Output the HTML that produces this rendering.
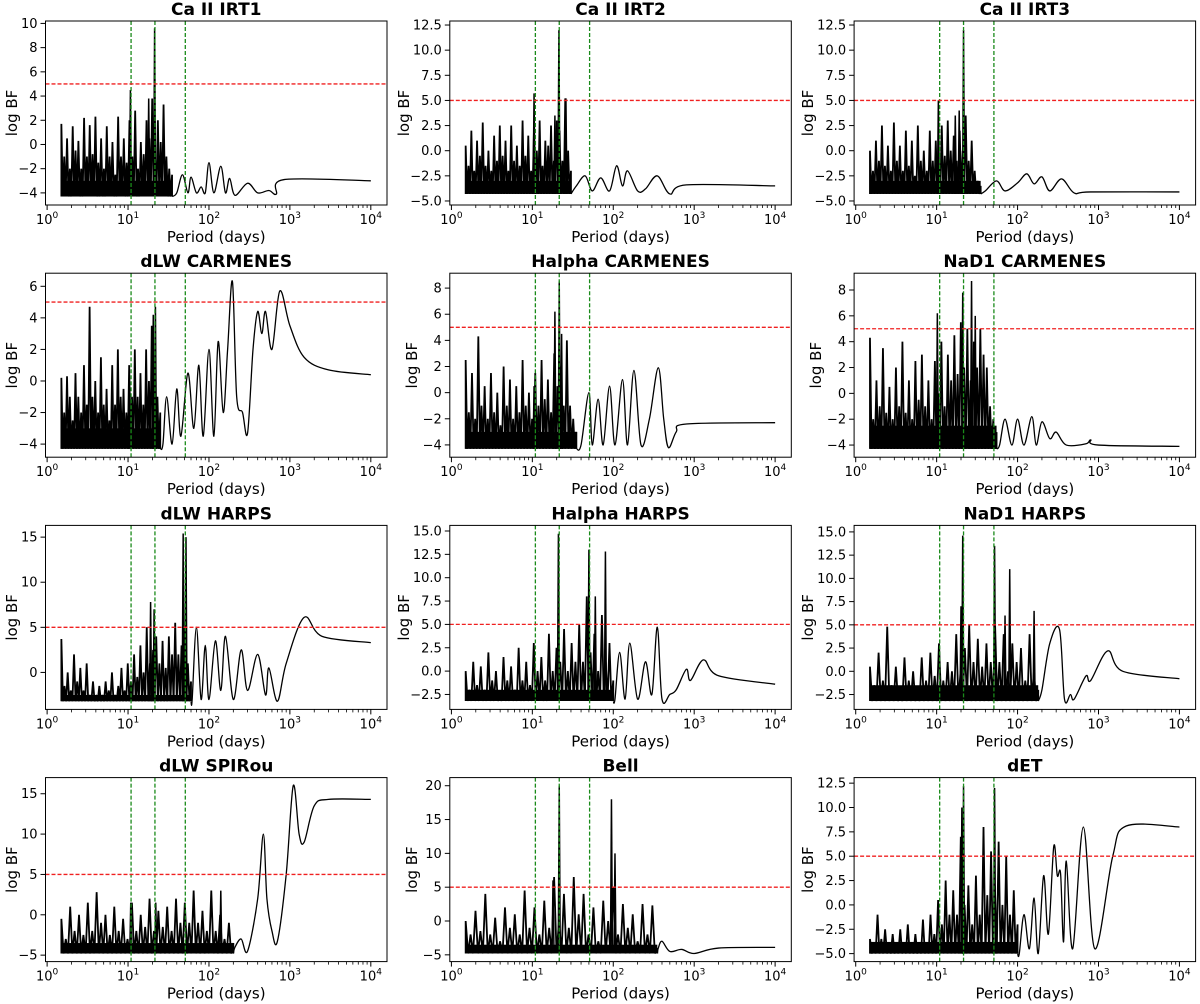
<!DOCTYPE html>
<html><head><meta charset="utf-8"><style>
html,body{margin:0;padding:0;background:#fff;}
svg{display:block;font-family:"DejaVu Sans","Liberation Sans",sans-serif;}
</style></head><body>
<svg id="fig" width="1200" height="1004" viewBox="0 0 1200 1004" xmlns="http://www.w3.org/2000/svg"></svg>
<script>
const titles=["Ca II IRT1","Ca II IRT2","Ca II IRT3","dLW CARMENES","Halpha CARMENES","NaD1 CARMENES","dLW HARPS","Halpha HARPS","NaD1 HARPS","dLW SPIRou","Bell","dET"];
const yLimits=[[-5,10.2],[-5.4,12.9],[-5.4,12.9],[-4.83,6.83],[-4.94,9.14],[-4.94,9.3],[-4.1,16.3],[-4.1,15.6],[-4.1,15.7],[-5.8,17],[-6,21.2],[-5.82,13.07]];
const yTicks=[[-4,-2,0,2,4,6,8,10],[-5,-2.5,0,2.5,5,7.5,10,12.5],[-5,-2.5,0,2.5,5,7.5,10,12.5],[-4,-2,0,2,4,6],[-4,-2,0,2,4,6,8],[-4,-2,0,2,4,6,8],[0,5,10,15],[-2.5,0,2.5,5,7.5,10,12.5,15],[-2.5,0,2.5,5,7.5,10,12.5,15],[-5,0,5,10,15],[-5,0,5,10,15,20],[-5,-2.5,0,2.5,5,7.5,10,12.5]];
const yDecimals=[0,1,1,0,0,0,0,1,1,0,0,1];
const floors=[-4.3,-4.3,-4.3,-4.3,-4.3,-4.3,-3.2,-3.2,-3.2,-4.8,-4.8,-5];
const noiseBand=[-3,-3,-3,-3,-3,-2.5,-2.5,-2,-1.5,-3.5,-3.5,-3.8];
const noiseRange=[[1.5,35],[1.5,30],[1.5,35],[1.5,25],[1.5,35],[1.5,55],[1.5,60],[1.5,100],[1.5,180],[1.5,200],[1.5,350],[1.5,100]];
const noisePeaks=[
[1.7,-1,0.5,-2,1.5,-0.5,0.3,-2,2.2,-1,1.6,-0.8,2.3,-1.5,0.5,-2,1.5,-1,0.2,-2.5,2.3,-1,0.5,-1.5,2,-1,2.8,-2,0.2,-0.8,2,0.5,3.8,-1,2,0.2,3.3,-1,-2,-2.5],
[0.5,-1.5,2,-2,1,-0.5,2.8,-1.5,0,-2,1.5,-1,2.5,-0.5,1,-2,2.5,-1,0.5,-1.5,3,-0.5,1.5,-2,2,0,3,-1.5,1,0.5,2.5,-1,3,2,-1,5.2,0,-2],
[0,-2,1,-1,2.5,-1.5,0.5,-2,2.8,-1,0.5,-2,2,-1.5,1,-2.5,2.5,-1,0,-2,2,-1,1,-1.5,2.5,-0.5,3,0,1.5,-1,2,0,3.5,-1,1,-2,-3,-3.5],
[0.2,-2,0.3,-1,-2.5,0.5,-1,-2,1,-1.5,4.7,-1,0,-2,1.5,-1.5,-0.5,-2.5,1,-1.5,2,-1,-0.5,-2,1,-1,2,-1,0.5,-1.5,2,0,3.5,1,-1,-2],
[2.5,-1.5,1.5,-2,4.3,-1,0.5,-2,1.5,-1.5,0,-2.5,2,-1,1,-2,0.5,-1.5,2.5,-1,0,-2,1.5,-1,2.5,-0.5,1,-1.5,3,0.5,2,-1,4,-1,-2,-3],
[4.3,-2,1,-1,3.5,-1.5,0.5,-2,2,-1,4,-1.5,1,-2,2.5,-0.5,3,-1,1,-2,2.5,0,4,-1,3,1,4.5,1.5,5.5,2,5,1,4,2,5,3,2,-1,-2,-3],
[3.7,-1.5,0,-2,2,-1,0.5,-2,1,-2.5,-1,-2.7,-1.5,-2.5,-1,-2,0,-2.5,-1.5,0.5,-2,1,-1,2,-0.5,3,0,5,1,2.5,4,1,3.5,0.5,4,2,5.5,2,3,5,1,-1],
[0,-2,1,-1.5,0.5,-2,2,-1,0,-2.5,1.5,-1,0.5,-2,2.5,-1,1,-1.5,3,0,1.5,-1,4,0,2.5,1,4.5,0,3,1,5,1,8,2,4,0,6,1,3,-1],
[0.5,-1.5,2,-1,4.8,-1.5,0.5,-2,1.5,-1,0,-2,1.5,-1,2,-0.5,3,-1,1,0,4,0,2.5,5,1,3.5,0.5,3,1,5,1,4,0,3,1,2.5,-1,4,0,-2],
[-0.5,-3,1,-2,0,-2.5,1.5,-2,2.8,-1,0,-2.5,1,-2,-0.5,-3,1.5,-2,0,-1.5,2,-2,0.5,-1.5,1,-2,2,-1,1.5,-1,3,-1,0.5,-2,3,-2,0,-3,-1,-3.5],
[0,-2,1.5,-1.5,4,-2,0.5,-3,2,-1,1,-2,4.5,-1,2,-2,3,-1,6.5,0,4,-1,6.5,1,4,-2,2,-3,3,0,5,-2,2.5,-1,1,-3,2.5,-2,2.3,-4],
[-3.5,-4,-1,-3.5,-2.5,-4,-3,-4,-2.5,-4,-2,-4,-3,-4,-1.5,-4,-1,-3,0.5,-2,2.5,-1,1.5,-1,7,0,2,-2,3,-1,8,1,5.5,2,6.5,0,5,-1,1.5,-2]];
const spikes=[
[[10.7,4.5],[21.3,9.6],[18,3.8]],
[[10.5,5.7],[21.3,12],[19,3.5],[26,5.2]],
[[10.5,5],[21.5,12],[19,4],[17,3.5]],
[[10.5,-0.5],[21.8,4.7],[20.5,4.2]],
[[19,6.2],[21.5,8.5],[10.5,0.5],[23,4.5]],
[[10.2,6.2],[21,7.8],[27,8.7],[30,6]],
[[19,7.8],[21,7],[48,15.4],[52,15]],
[[21,14.7],[50,13],[80,12.8],[60,8]],
[[21,14.6],[52,13.5],[80,11],[160,6.5],[20,7],[70,6]],
[[10.8,1.5],[22,1.5],[140,3]],
[[21.5,20],[95,18],[18,6],[105,10]],
[[21.5,12.2],[52,12],[20.5,10]]];
const tails=[
[[40,-4],[47,-2.5],[55,-4],[60,-2.7],[70,-4],[80,-3.5],[90,-4],[100,-1.5],[115,-4],[140,-1.8],[160,-4],[180,-2.8],[210,-4.2],[300,-3.2],[400,-4],[550,-3.8],[680,-4.1],[850,-2.9],[10000,-3]],
[[35,-3.5],[45,-2.5],[55,-4],[70,-2.7],[90,-4],[110,-1.5],[130,-3.5],[150,-2],[200,-4],[250,-3.8],[350,-2.5],[500,-4.3],[800,-3.4],[10000,-3.5]],
[[40,-4],[55,-3],[70,-4],[100,-3.2],[130,-2.3],[160,-3.3],[200,-2.6],[250,-4],[350,-2.8],[500,-4.2],[800,-4.1],[10000,-4.1]],
[[27,-4],[30,-1],[35,-4],[40,-0.5],[45,-3.5],[55,0.5],[65,-3],[75,1],[85,-3.5],[100,2],[115,-3.5],[130,2.5],[150,-2],[170,2],[195,6.3],[220,-1],[260,-2],[300,-3.3],[350,2],[400,4.4],[450,3],[500,4.4],[600,2],[750,5.7],[1000,3.5],[1500,1.5],[3000,0.7],[10000,0.4]],
[[40,-4],[50,0],[55,-4],[65,-0.5],[75,-4],[90,0.5],[105,-4],[130,1],[150,-4],[180,1.7],[220,-4],[280,-2],[360,1.9],[420,-2],[480,-4.2],[600,-3],[800,-2.4],[10000,-2.3]],
[[60,-4],[70,-2],[85,-4],[100,-2],[120,-4],[150,-1.8],[170,-4],[200,-2.2],[250,-3.5],[300,-3],[400,-4],[700,-3.9],[800,-3.6],[1000,-4],[10000,-4.1]],
[[62,-3],[70,5],[80,-3],[90,3],[100,-3],[120,3.5],[140,-2],[160,4],[200,-3],[250,2.5],[300,-2],[400,2],[500,-2.5],[550,0.5],[700,-3.2],[900,1],[1500,6.1],[2500,4],[10000,3.3]],
[[105,-3],[120,2],[140,-3],[160,3],[200,-3],[250,1],[300,-2.5],[350,4.7],[400,-3],[500,-2.5],[600,-2],[800,0.2],[900,-1],[1300,1.2],[2000,-0.5],[10000,-1.4]],
[[200,-2],[250,3],[330,4.5],[380,-3],[450,-2.5],[500,-3],[700,-0.5],[800,-1],[1300,2.2],[2000,0],[10000,-0.8]],
[[210,-4],[250,-3],[300,-4.5],[400,2],[470,10],[520,2],[600,-2],[700,-3.3],[900,5],[1100,16],[1300,10],[1500,9],[2000,13.5],[3000,14.3],[10000,14.3]],
[[360,-4],[400,-3],[500,-4.5],[700,-4.2],[1000,-4.8],[2000,-4],[10000,-3.9]],
[[105,-5],[120,-1],[140,-4.5],[160,0.7],[180,-5],[210,3],[240,-3],[280,6],[310,3],[340,3.2],[370,-3.8],[400,4.5],[480,-4.5],[650,8],[900,-4.5],[1500,5],[2200,8.1],[10000,8]]];
const greenLines=[10.9,21.5,51];
const threshold=5;
const xDecades=[0,1,2,3,4];

const NS="http://www.w3.org/2000/svg";
const svg=document.getElementById('fig');
function mk(tag,attrs,parent){const e=document.createElementNS(NS,tag);for(const k in attrs)e.setAttribute(k,attrs[k]);(parent||svg).appendChild(e);return e;}
const AX_L=45.5, COL_W=404.3, AX_T=21, ROW_H=252.2, AW=341.5, AH=184;
const XMIN=-0.02, XMAX=4.2;
function fmt(v,d){let s=v.toFixed(d);return v<0?"\u2212"+s.slice(1):s;}
function smooth(pts){let d="M"+pts[0][0]+","+pts[0][1];for(let i=0;i<pts.length-1;i++){const p0=pts[Math.max(i-1,0)],p1=pts[i],p2=pts[i+1],p3=pts[Math.min(i+2,pts.length-1)];const c1x=p1[0]+(p2[0]-p0[0])/6,c1y=p1[1]+(p2[1]-p0[1])/6,c2x=p2[0]-(p3[0]-p1[0])/6,c2y=p2[1]-(p3[1]-p1[1])/6;d+=" C"+c1x.toFixed(2)+","+c1y.toFixed(2)+" "+c2x.toFixed(2)+","+c2y.toFixed(2)+" "+p2[0].toFixed(2)+","+p2[1].toFixed(2);}return d;}

for(let k=0;k<12;k++){
  const col=k%3,row=Math.floor(k/3);
  const L=AX_L+col*COL_W, T=AX_T+row*ROW_H, R=L+AW, B=T+AH;
  const [y0,y1]=yLimits[k];
  const X=p=>L+(Math.log10(p)-XMIN)/(XMAX-XMIN)*AW;
  const Y=v=>B-(v-y0)/(y1-y0)*AH;
  const g=mk('g',{});
  
  
  const clipId='c'+k;
  const cp=mk('clipPath',{id:clipId},g);mk('rect',{x:L,y:T,width:AW,height:AH},cp);
  const plot=mk('g',{'clip-path':'url(#'+clipId+')'},g);
  const fl=floors[k],[ns,ne]=noiseRange[k],np=noisePeaks[k],n=np.length;
  // dense band
  const band=mk('rect',{x:X(ns),y:Y(noiseBand[k]),width:X(ne)-X(ns),height:Y(fl)-Y(noiseBand[k]),fill:'#000'},plot);
  
  
  const lr=Math.log10(ne/ns);
  let d="M"+X(ns).toFixed(2)+","+Y(fl).toFixed(2);
  for(let i=0;i<n;i++){const p=ns*Math.pow(10,lr*i/(n-1));const pm=ns*Math.pow(10,lr*(i+0.5)/(n-1));d+=" L"+X(p).toFixed(2)+","+Y(np[i]).toFixed(2)+" L"+X(Math.min(pm,ne)).toFixed(2)+","+Y(fl).toFixed(2);}
  const noise=mk('path',{d:d,fill:'none',stroke:'#000','stroke-width':1.8,'stroke-linejoin':'miter'},plot);
  
  
  for(const [p,v] of spikes[k]){
    const s=mk('path',{d:"M"+(X(p)-1).toFixed(2)+","+Y(fl).toFixed(2)+" L"+X(p).toFixed(2)+","+Y(v).toFixed(2)+" L"+(X(p)+1).toFixed(2)+","+Y(fl).toFixed(2),fill:'none',stroke:'#000','stroke-width':1.5},plot);
    
    
  }
  const tp=[[X(ne),Y(fl)]].concat(tails[k].map(q=>[X(q[0]),Y(q[1])]));
  const tail=mk('path',{d:smooth(tp),fill:'none',stroke:'#000','stroke-width':1.3},plot);
  
  
  for(const gp of greenLines){
    const ln=mk('line',{x1:X(gp),x2:X(gp),y1:T,y2:B,stroke:'#1a8a1a','stroke-width':1.3,'stroke-dasharray':'4,2'},g);
    
    
  }
  const th=mk('line',{x1:L,x2:R,y1:Y(threshold),y2:Y(threshold),stroke:'#f02020','stroke-width':1.3,'stroke-dasharray':'4,2'},g);
  
  
  const fr=mk('rect',{x:L,y:T,width:AW,height:AH,fill:'none',stroke:'#000','stroke-width':1},g);
  
  
  for(const dec of xDecades){
    const x=X(Math.pow(10,dec));
    mk('line',{x1:x,x2:x,y1:B,y2:B+5,stroke:'#000','stroke-width':1},g);
    const t=mk('text',{x:x,y:B+19,'text-anchor':'middle','font-size':13,fill:'#000'},g);
    
    
    t.appendChild(document.createTextNode('10'));
    const sp=mk('tspan',{dy:-6,'font-size':9},t);sp.textContent=String(dec);
    if(dec<4)for(let m=2;m<10;m++){const xm=X(m*Math.pow(10,dec));mk('line',{x1:xm,x2:xm,y1:B,y2:B+3,stroke:'#000','stroke-width':0.8},g);}
  }
  for(const v of yTicks[k]){
    const y=Y(v);
    mk('line',{x1:L-5,x2:L,y1:y,y2:y,stroke:'#000','stroke-width':1},g);
    const t=mk('text',{x:L-8,y:y+4.5,'text-anchor':'end','font-size':13,fill:'#000'},g);
    
    
    t.textContent=fmt(v,yDecimals[k]);
  }
  const tt=mk('text',{x:L+AW/2,y:T-6,'text-anchor':'middle','font-size':17,'font-weight':'bold',fill:'#000'},g);
  
  
  tt.textContent=titles[k];
  const xl=mk('text',{x:L+AW/2,y:B+37,'text-anchor':'middle','font-size':15,fill:'#000'},g);
  
  
  xl.textContent='Period (days)';
  const yx=L-33-(yDecimals[k]?8:0);
  const yl=mk('text',{x:0,y:0,'text-anchor':'middle','font-size':15,fill:'#000',transform:'translate('+(col===0?17:yx)+','+(T+AH/2)+') rotate(-90)'},g);
  
  
  yl.textContent='log BF';
}
</script>
</body></html>
